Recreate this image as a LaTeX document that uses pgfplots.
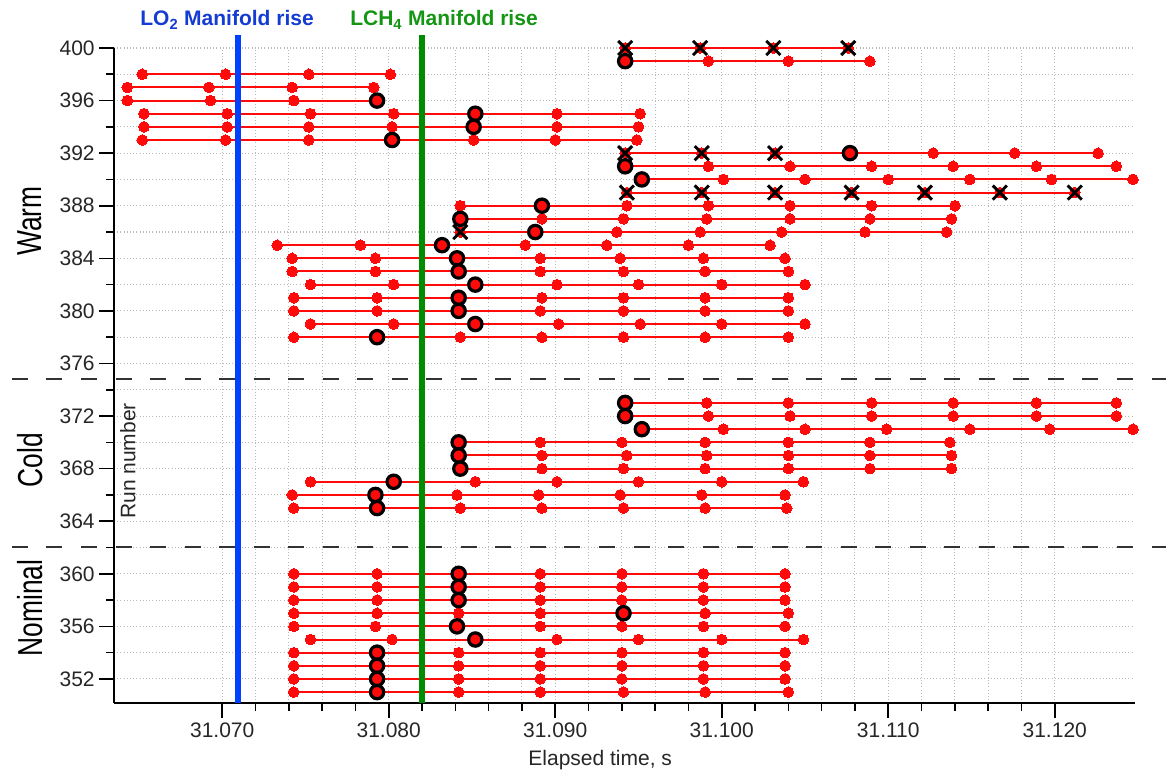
\documentclass[border=0pt]{standalone}
\usepackage{pgfplots}
\pgfplotsset{compat=1.18}
\usepackage{fontspec}
\setmainfont{Liberation Sans}
\newfontfamily\narrowfont[FakeStretch=0.76]{Liberation Sans}
\definecolor{runred}{RGB}{255,10,10}
\definecolor{loblue}{RGB}{0,64,255}
\definecolor{lotext}{RGB}{20,60,210}
\definecolor{chgreen}{RGB}{0,140,0}
\definecolor{chtext}{RGB}{20,150,20}
\definecolor{gridgray}{RGB}{185,185,185}
\definecolor{dashgray}{RGB}{50,50,50}
\begin{document}
\begin{tikzpicture}
\path[use as bounding box] (-85.5pt,-56.25pt) rectangle (789pt,527.25pt);
\begin{axis}[
  at={(0,0)}, anchor=south west,
  scale only axis, width=765.5pt, height=491.25pt,
  xmin=31.0635, xmax=31.1248, ymin=350.17, ymax=400,
  axis x line*=bottom, axis y line*=left,
  axis line style={line width=1.5pt, black},
  clip=false,
  xtick={31.07,31.08,31.09,31.10,31.11,31.12},
  minor x tick num=4,
  ytick={352,356,...,400},
  minor y tick num=1,
  tick align=outside,
  major tick length=11pt, minor tick length=6pt,
  tick style={line width=1.2pt, black},
  grid=both,
  major grid style={dotted, gridgray, line width=0.8pt},
  minor grid style={dotted, gridgray, line width=0.8pt},
  scaled x ticks=false,
  /pgf/number format/assume math mode=true,
  xticklabel style={/pgf/number format/.cd, fixed, fixed zerofill, precision=3},
  yticklabel style={/pgf/number format/.cd, fixed, precision=0},
  tick label style={font=\fontsize{15.75}{18}\selectfont, text=black!85},
  run/.style={runred, line width=1.5pt, mark=*, mark size=4pt, mark options={fill=runred, draw=runred, line width=0pt}},
]
% ---------------- Warm ----------------
\addplot[run] coordinates {(31.0942,400)(31.0987,400)(31.1031,400)(31.1076,400)};
\addplot[run] coordinates {(31.0942,399)(31.0992,399)(31.1040,399)(31.1089,399)};
\addplot[run] coordinates {(31.0652,398)(31.0702,398)(31.0752,398)(31.0801,398)};
\addplot[run] coordinates {(31.0643,397)(31.0692,397)(31.0742,397)(31.0791,397)};
\addplot[run] coordinates {(31.0643,396)(31.0693,396)(31.0743,396)(31.0793,396)};
\addplot[run] coordinates {(31.0653,395)(31.0703,395)(31.0753,395)(31.0803,395)(31.0852,395)(31.0901,395)(31.0951,395)};
\addplot[run] coordinates {(31.0653,394)(31.0703,394)(31.0752,394)(31.0802,394)(31.0851,394)(31.0901,394)(31.0950,394)};
\addplot[run] coordinates {(31.0652,393)(31.0702,393)(31.0752,393)(31.0802,393)(31.0851,393)(31.0900,393)(31.0949,393)};
\addplot[run] coordinates {(31.0942,392)(31.0988,392)(31.1032,392)(31.1077,392)(31.1127,392)(31.1176,392)(31.1226,392)};
\addplot[run] coordinates {(31.0942,391)(31.0992,391)(31.1041,391)(31.1090,391)(31.1139,391)(31.1189,391)(31.1237,391)};
\addplot[run] coordinates {(31.0952,390)(31.1001,390)(31.1050,390)(31.1100,390)(31.1149,390)(31.1198,390)(31.1247,390)};
\addplot[run] coordinates {(31.0943,389)(31.0988,389)(31.1032,389)(31.1078,389)(31.1122,389)(31.1167,389)(31.1212,389)};
\addplot[run] coordinates {(31.0843,388)(31.0892,388)(31.0943,388)(31.0992,388)(31.1041,388)(31.1090,388)(31.1140,388)};
\addplot[run] coordinates {(31.0843,387)(31.0892,387)(31.0941,387)(31.0991,387)(31.1041,387)(31.1089,387)(31.1138,387)};
\addplot[run] coordinates {(31.0843,386)(31.0888,386)(31.0937,386)(31.0987,386)(31.1036,386)(31.1086,386)(31.1135,386)};
\addplot[run] coordinates {(31.0733,385)(31.0783,385)(31.0832,385)(31.0882,385)(31.0931,385)(31.0980,385)(31.1029,385)};
\addplot[run] coordinates {(31.0742,384)(31.0792,384)(31.0841,384)(31.0891,384)(31.0939,384)(31.0989,384)(31.1038,384)};
\addplot[run] coordinates {(31.0742,383)(31.0792,383)(31.0842,383)(31.0891,383)(31.0941,383)(31.0990,383)(31.1040,383)};
\addplot[run] coordinates {(31.0753,382)(31.0803,382)(31.0852,382)(31.0901,382)(31.0950,382)(31.1000,382)(31.1050,382)};
\addplot[run] coordinates {(31.0743,381)(31.0793,381)(31.0842,381)(31.0892,381)(31.0941,381)(31.0990,381)(31.1040,381)};
\addplot[run] coordinates {(31.0743,380)(31.0793,380)(31.0842,380)(31.0891,380)(31.0941,380)(31.0990,380)(31.1040,380)};
\addplot[run] coordinates {(31.0753,379)(31.0803,379)(31.0852,379)(31.0902,379)(31.0951,379)(31.1000,379)(31.1050,379)};
\addplot[run] coordinates {(31.0743,378)(31.0793,378)(31.0843,378)(31.0892,378)(31.0941,378)(31.0990,378)(31.1040,378)};
% ---------------- Cold ----------------
\addplot[run] coordinates {(31.0942,373)(31.0991,373)(31.1040,373)(31.1090,373)(31.1139,373)(31.1189,373)(31.1237,373)};
\addplot[run] coordinates {(31.0942,372)(31.0992,372)(31.1041,372)(31.1090,372)(31.1139,372)(31.1189,372)(31.1237,372)};
\addplot[run] coordinates {(31.0952,371)(31.1001,371)(31.1050,371)(31.1099,371)(31.1149,371)(31.1197,371)(31.1247,371)};
\addplot[run] coordinates {(31.0842,370)(31.0891,370)(31.0940,370)(31.0990,370)(31.1040,370)(31.1089,370)(31.1137,370)};
\addplot[run] coordinates {(31.0842,369)(31.0892,369)(31.0943,369)(31.0991,369)(31.1040,369)(31.1089,369)(31.1138,369)};
\addplot[run] coordinates {(31.0843,368)(31.0892,368)(31.0941,368)(31.0990,368)(31.1040,368)(31.1089,368)(31.1138,368)};
\addplot[run] coordinates {(31.0753,367)(31.0803,367)(31.0852,367)(31.0901,367)(31.0950,367)(31.1000,367)(31.1049,367)};
\addplot[run] coordinates {(31.0742,366)(31.0792,366)(31.0841,366)(31.0890,366)(31.0939,366)(31.0988,366)(31.1038,366)};
\addplot[run] coordinates {(31.0743,365)(31.0793,365)(31.0843,365)(31.0892,365)(31.0941,365)(31.0990,365)(31.1039,365)};
% ---------------- Nominal ----------------
\addplot[run] coordinates {(31.0743,360)(31.0793,360)(31.0842,360)(31.0891,360)(31.0940,360)(31.0989,360)(31.1038,360)};
\addplot[run] coordinates {(31.0743,359)(31.0793,359)(31.0842,359)(31.0891,359)(31.0940,359)(31.0989,359)(31.1038,359)};
\addplot[run] coordinates {(31.0743,358)(31.0793,358)(31.0842,358)(31.0891,358)(31.0940,358)(31.0989,358)(31.1038,358)};
\addplot[run] coordinates {(31.0743,357)(31.0793,357)(31.0842,357)(31.0891,357)(31.0941,357)(31.0990,357)(31.1040,357)};
\addplot[run] coordinates {(31.0743,356)(31.0792,356)(31.0841,356)(31.0891,356)(31.0940,356)(31.0989,356)(31.1038,356)};
\addplot[run] coordinates {(31.0753,355)(31.0802,355)(31.0852,355)(31.0901,355)(31.0950,355)(31.1000,355)(31.1049,355)};
\addplot[run] coordinates {(31.0743,354)(31.0793,354)(31.0842,354)(31.0891,354)(31.0940,354)(31.0989,354)(31.1038,354)};
\addplot[run] coordinates {(31.0743,353)(31.0793,353)(31.0842,353)(31.0891,353)(31.0940,353)(31.0989,353)(31.1038,353)};
\addplot[run] coordinates {(31.0743,352)(31.0793,352)(31.0842,352)(31.0891,352)(31.0940,352)(31.0989,352)(31.1038,352)};
\addplot[run] coordinates {(31.0743,351)(31.0793,351)(31.0842,351)(31.0891,351)(31.0941,351)(31.0990,351)(31.1040,351)};
% ---------------- X marks ----------------
\addplot[only marks, mark=x, mark size=7.5pt, mark options={black, line width=2.2pt}] coordinates {
(31.0942,400)(31.0987,400)(31.1031,400)(31.1076,400)
(31.0942,392)(31.0988,392)(31.1032,392)
(31.0943,389)(31.0988,389)(31.1032,389)(31.1078,389)(31.1122,389)(31.1167,389)(31.1212,389)
(31.0843,386)};
% ---------------- highlighted points ----------------
\addplot[only marks, mark=*, mark size=5pt, mark options={fill=runred, draw=black, line width=2.4pt}] coordinates {
(31.0942,399)(31.0793,396)(31.0852,395)(31.0851,394)(31.0802,393)(31.1077,392)(31.0942,391)(31.0952,390)
(31.0892,388)(31.0843,387)(31.0888,386)(31.0832,385)(31.0841,384)(31.0842,383)(31.0852,382)(31.0842,381)
(31.0842,380)(31.0852,379)(31.0793,378)
(31.0942,373)(31.0942,372)(31.0952,371)(31.0842,370)(31.0842,369)(31.0843,368)(31.0803,367)(31.0792,366)(31.0793,365)
(31.0842,360)(31.0842,359)(31.0842,358)(31.0941,357)(31.0841,356)(31.0852,355)(31.0793,354)(31.0793,353)(31.0793,352)(31.0793,351)};
% ---------------- manifold rise lines ----------------
\draw[loblue, line width=4.5pt] (axis cs:31.07096,350.17) -- (axis cs:31.07096,401.0);
\draw[chgreen, line width=4.5pt] (axis cs:31.0820,350.17) -- (axis cs:31.0820,401.0);
% ---------------- section separators ----------------
\draw[dashgray, line width=1.5pt, dash pattern=on 12pt off 13.9pt] (axis cs:31.05737,374.8) -- (axis cs:31.12668,374.8);
\draw[dashgray, line width=1.5pt, dash pattern=on 12pt off 13.9pt] (axis cs:31.05737,362.0) -- (axis cs:31.12668,362.0);
% ---------------- texts ----------------
\node[font=\bfseries\fontsize{15.75}{18}\selectfont, text=lotext] at (axis cs:31.07029,402.13) {LO\textsubscript{2} Manifold rise};
\node[font=\bfseries\fontsize{15.75}{18}\selectfont, text=chtext] at (axis cs:31.08332,402.13) {LCH\textsubscript{4} Manifold rise};
\node[rotate=90, font=\narrowfont\fontsize{26}{30}\selectfont] at (axis cs:31.05846,386.84) {Warm};
\node[rotate=90, font=\narrowfont\fontsize{26}{30}\selectfont] at (axis cs:31.05846,368.66) {Cold};
\node[rotate=90, font=\narrowfont\fontsize{26}{30}\selectfont] at (axis cs:31.05846,357.4) {Nominal};
\node[rotate=90, font=\fontsize{15.75}{18}\selectfont, text=black!85] at (axis cs:31.06434,368.58) {Run number};
\node[font=\fontsize{15.75}{18}\selectfont, text=black!85] at (axis cs:31.0927,350.17) [yshift=-42.75pt] {Elapsed time, s};
\end{axis}
\end{tikzpicture}
\end{document}
